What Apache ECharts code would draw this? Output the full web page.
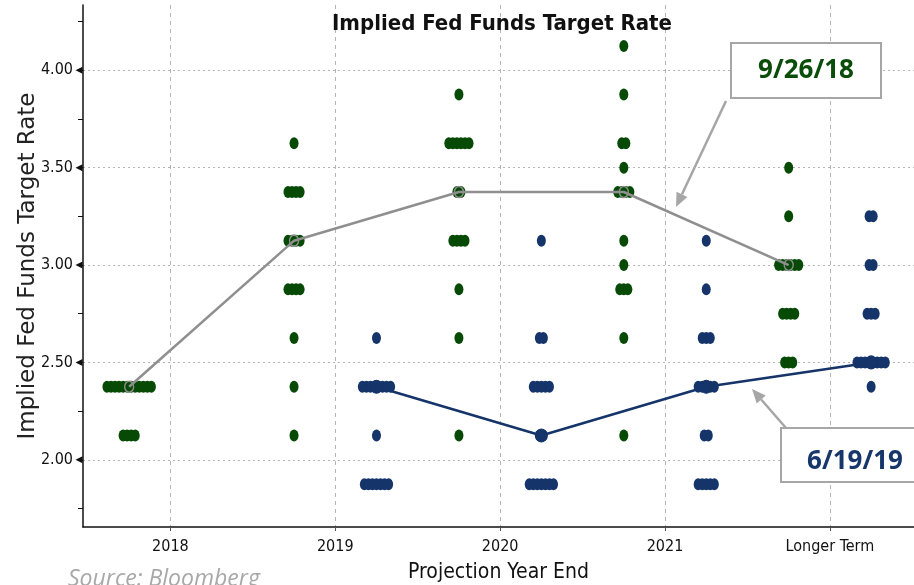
<!DOCTYPE html>
<html>
<head>
<meta charset="utf-8">
<script src="https://cdn.jsdelivr.net/npm/echarts@6/dist/echarts.min.js"></script>
<style>
html, body { margin: 0; padding: 0; background: #fff; }
#chart { width: 914px; height: 585px; }
</style>
</head>
<body>
<div id="chart"></div>
<script>
// projection years on the x axis
var categories = ['2018', '2019', '2020', '2021', 'Longer Term'];
// labelled rates and minor ticks on the y axis
var rateTicks = [2.00, 2.50, 3.00, 3.50, 4.00];
var minorRateTicks = [1.75, 2.00, 2.25, 2.50, 2.75, 3.00, 3.25, 3.50, 3.75, 4.00, 4.25];

// FOMC dots, [rate, number of participants] for each projection year
var sep18Dots = [
    [[2.375, 12], [2.125, 4]],
    [[3.625, 1], [3.375, 4], [3.125, 4], [2.875, 4], [2.625, 1], [2.375, 1], [2.125, 1]],
    [[3.875, 1], [3.625, 6], [3.375, 2], [3.125, 4], [2.875, 1], [2.625, 1], [2.125, 1]],
    [[4.125, 1], [3.875, 1], [3.625, 2], [3.5, 1], [3.375, 4], [3.125, 1], [3.0, 1], [2.875, 3], [2.625, 1], [2.125, 1]],
    [[3.5, 1], [3.25, 1], [3.0, 6], [2.75, 4], [2.5, 3]]
];
var jun19Dots = [
    [],
    [[2.625, 1], [2.375, 8], [2.125, 1], [1.875, 7]],
    [[3.125, 1], [2.625, 2], [2.375, 5], [2.125, 2], [1.875, 7]],
    [[3.125, 1], [2.875, 1], [2.625, 3], [2.375, 5], [2.125, 2], [1.875, 5]],
    [[3.25, 2], [3.0, 2], [2.75, 3], [2.5, 8], [2.375, 1]]
];
// medians
var sep18Median = [2.375, 3.125, 3.375, 3.375, 3.0];
var jun19Median = [null, 2.375, 2.125, 2.375, 2.5];

var GREEN = '#064a06';
var BLUE = '#15346a';
var GREY = '#8f8f8f';
var NARROW = "'Liberation Sans Narrow', 'DejaVu Sans Condensed', 'Liberation Sans', sans-serif";
var X_MIN = -0.53, X_MAX = 4.51;
var SEP_OFFSET = -0.25, JUN_OFFSET = 0.25;
var DOT_STEP = 0.0245; // side by side spacing of dots in one row

function dotPoints(dots, offset) {
    var out = [];
    dots.forEach(function (col, i) {
        col.forEach(function (d) {
            for (var k = 0; k < d[1]; k++) {
                out.push([i + offset + (k - (d[1] - 1) / 2) * DOT_STEP, d[0]]);
            }
        });
    });
    return out;
}
function medianPoints(med, offset) {
    var out = [];
    med.forEach(function (v, i) {
        if (v != null) out.push([i + offset, v]);
    });
    return out;
}
// arrow drawn with graphic elements
function arrow(x1, y1, x2, y2, color) {
    var ang = Math.atan2(y2 - y1, x2 - x1);
    var len = 14, half = 6;
    var bx = x2 - len * Math.cos(ang), by = y2 - len * Math.sin(ang);
    var px = -Math.sin(ang) * half, py = Math.cos(ang) * half;
    return [
        { type: 'line', shape: { x1: x1, y1: y1, x2: bx, y2: by }, style: { stroke: color, lineWidth: 2.5 } },
        { type: 'polygon', shape: { points: [[x2, y2], [bx + px, by + py], [bx - px, by - py]] }, style: { fill: color } }
    ];
}

var chart = echarts.init(document.getElementById('chart'));
var option = {
    animation: false,
    title: {
        text: 'Implied Fed Funds Target Rate',
        left: 497, top: 8, textAlign: 'center',
        textStyle: { fontFamily: NARROW, fontWeight: 'bold', fontSize: 22, color: '#111' }
    },
    grid: { left: 83, right: 0, top: 5, bottom: 58, outerBoundsMode: 'none', containLabel: false },
    xAxis: [{
        type: 'value', min: X_MIN, max: X_MAX,
        name: 'Projection Year End', nameLocation: 'middle', nameGap: 35,
        nameTextStyle: { fontFamily: NARROW, fontSize: 21, color: '#111' },
        axisLine: { onZero: false, lineStyle: { color: '#111', width: 1.5 } },
        axisTick: { customValues: [0, 1, 2, 3, 4], length: 4, lineStyle: { color: '#555' } },
        axisLabel: {
            customValues: [0, 1, 2, 3, 4], margin: 12,
            fontFamily: NARROW, fontSize: 16, color: '#111',
            formatter: function (v) { return categories[Math.round(v)]; }
        },
        splitLine: { show: true, lineStyle: { type: [4, 4], color: '#b4b4b4' } }
    }],
    yAxis: [{
        type: 'value', min: 1.655, max: 4.335, position: 'left',
        name: 'Implied Fed Funds Target Rate', nameLocation: 'middle', nameGap: 43, nameMoveOverlap: false,
        nameTextStyle: { fontFamily: 'DejaVu Sans', fontSize: 23, color: '#222' },
        axisLine: { show: true, onZero: false, lineStyle: { color: '#111', width: 1.5 } },
        axisTick: { show: false, customValues: rateTicks },
        axisLabel: {
            customValues: rateTicks, margin: 10,
            fontFamily: NARROW, fontSize: 16, color: '#111',
            formatter: function (v) { return v.toFixed(2); }
        },
        splitLine: { show: true, lineStyle: { type: [2, 3], color: '#b4b4b4' } }
    }, {
        type: 'value', min: 1.655, max: 4.335, position: 'left',
        axisLine: { show: false, onZero: false },
        axisTick: { show: true, customValues: minorRateTicks, length: 5, lineStyle: { color: '#111' } },
        axisLabel: { show: false },
        splitLine: { show: false }
    }],
    series: [{
        name: 'tick marks', type: 'scatter', silent: true, clip: false,
        data: rateTicks.map(function (v) { return [X_MIN, v]; }),
        symbol: 'triangle', symbolRotate: 90, symbolSize: [7, 7], symbolOffset: [-4, 0],
        itemStyle: { color: '#111', opacity: 1 }, z: 5
    }, {
        name: '9/26/18', type: 'scatter', silent: true,
        data: dotPoints(sep18Dots, SEP_OFFSET),
        symbol: 'circle', symbolSize: [9, 12],
        itemStyle: { color: GREEN, opacity: 1 }, z: 2
    }, {
        name: '6/19/19', type: 'scatter', silent: true,
        data: dotPoints(jun19Dots, JUN_OFFSET),
        symbol: 'circle', symbolSize: [9, 12],
        itemStyle: { color: BLUE, opacity: 1 }, z: 2
    }, {
        name: '9/26/18 median', type: 'line', silent: true,
        data: medianPoints(sep18Median, SEP_OFFSET),
        symbol: 'circle', symbolSize: [9, 11], showAllSymbol: true,
        lineStyle: { color: GREY, width: 2.5 },
        itemStyle: { color: 'rgba(0,0,0,0)', borderColor: GREY, borderWidth: 1.5 }, z: 3
    }, {
        name: '6/19/19 median', type: 'line', silent: true,
        data: medianPoints(jun19Median, JUN_OFFSET),
        symbol: 'circle', symbolSize: [11, 13], showAllSymbol: true,
        lineStyle: { color: BLUE, width: 2.5 },
        itemStyle: { color: BLUE, borderColor: BLUE, borderWidth: 1 }, z: 3
    }],
    graphic: [].concat(
        arrow(726, 101, 676, 207, '#a6a6a6'),
        arrow(786, 428, 752, 389, '#a6a6a6'),
        [{
            type: 'rect', shape: { x: 731, y: 43, width: 150, height: 55 },
            style: { fill: '#fff', stroke: '#a6a6a6', lineWidth: 2 }, z: 10
        }, {
            type: 'text', x: 806, y: 71, z: 11,
            style: { text: '9/26/18', fill: '#0a4d0a', font: "bold 26px 'Open Sans', sans-serif", textAlign: 'center', textVerticalAlign: 'middle' }
        }, {
            type: 'rect', shape: { x: 781, y: 428, width: 140, height: 54 },
            style: { fill: '#fff', stroke: '#a6a6a6', lineWidth: 2 }, z: 10
        }, {
            type: 'text', x: 855, y: 462, z: 11,
            style: { text: '6/19/19', fill: '#17376b', font: "bold 26px 'Open Sans', sans-serif", textAlign: 'center', textVerticalAlign: 'middle' }
        }, {
            type: 'text', x: 68, y: 579, z: 11,
            style: { text: 'Source: Bloomberg', fill: '#a8a8a8', font: "italic 23px 'Open Sans', sans-serif", textVerticalAlign: 'middle' }
        }]
    )
};
chart.setOption(option);
</script>
</body>
</html>
